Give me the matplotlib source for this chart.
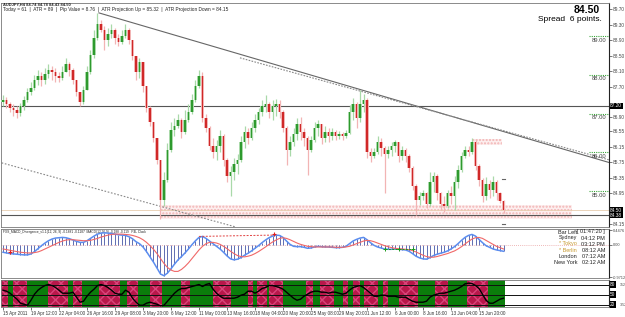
import numpy as np
import matplotlib.pyplot as plt
from matplotlib.patches import Rectangle

plt.rcParams['font.family'] = ['Liberation Sans', 'DejaVu Sans']

W, H = 625, 317

# AUDJPY H4, one candle per pair of H4 bars (prices)
first_open = 87.30
close = [87.35, 87.25, 87.14, 87.09, 87.02, 87.20, 87.35, 87.56, 87.66, 87.87,
         87.97, 87.87, 88.02, 88.13, 88.07, 87.97, 87.92, 88.07, 88.28, 88.13,
         87.87, 87.56, 87.30, 87.61, 88.07, 88.51, 88.95, 89.31, 89.16, 88.90,
         89.05, 89.16, 88.95, 88.85, 89.00, 89.16, 88.90, 88.49, 88.07, 88.33,
         87.71, 87.14, 86.78, 86.37, 85.80, 84.77, 85.29, 86.06, 86.58, 86.68,
         86.83, 86.52, 86.83, 87.04, 87.35, 87.71, 87.97, 86.89, 86.63, 86.16,
         86.01, 86.16, 86.42, 85.80, 85.39, 85.49, 85.70, 85.80, 86.27, 86.52,
         86.37, 86.63, 86.83, 87.04, 87.20, 87.25, 87.04, 87.20, 87.25, 87.04,
         86.63, 86.06, 86.27, 86.47, 86.73, 86.52, 86.37, 86.06, 86.32, 86.63,
         86.73, 86.37, 86.52, 86.42, 86.52, 86.42, 86.47, 86.42, 86.50, 87.04,
         87.25, 86.89, 87.25, 87.35, 86.01, 85.91, 86.01, 86.27, 86.11, 85.96,
         86.06, 86.16, 86.27, 85.91, 86.06, 85.91, 85.60, 85.13, 84.77, 84.87,
         84.94, 84.67, 85.23, 85.39, 84.94, 84.67, 84.62, 84.94, 84.87, 85.23,
         85.54, 85.91, 86.06, 86.01, 86.27, 85.65, 85.29, 84.87, 85.18, 85.03,
         85.23, 84.94, 84.74, 84.50]
high = [87.48, 87.43, 87.30, 87.25, 87.20, 87.27, 87.45, 87.66, 87.82, 88.00,
        88.13, 88.07, 88.18, 88.28, 88.23, 88.18, 88.07, 88.23, 88.44, 88.33,
        88.18, 87.87, 87.56, 87.71, 88.23, 88.64, 89.16, 89.60, 89.42, 89.26,
        89.21, 89.31, 89.21, 89.05, 89.16, 89.31, 89.21, 88.90, 88.49, 88.44,
        88.33, 87.71, 87.20, 86.78, 86.32, 85.80, 85.49, 86.24, 86.78, 86.89,
        86.99, 86.89, 87.09, 87.25, 87.51, 87.87, 88.13, 88.07, 86.99, 86.68,
        86.37, 86.32, 86.58, 86.47, 85.85, 85.65, 85.85, 85.96, 86.42, 86.68,
        86.63, 86.78, 86.99, 87.14, 87.35, 87.48, 87.30, 87.35, 87.38, 87.35,
        87.09, 86.68, 86.42, 86.63, 86.89, 86.91, 86.63, 86.42, 86.42, 86.78,
        86.83, 86.73, 86.68, 86.63, 86.63, 86.58, 86.55, 86.52, 86.58, 87.22,
        87.40, 87.30, 87.61, 87.51, 87.40, 86.11, 86.11, 86.42, 86.37, 86.16,
        86.16, 86.27, 86.32, 86.22, 86.16, 86.11, 85.96, 85.65, 85.18, 84.98,
        85.03, 84.98, 85.49, 85.49, 85.44, 84.98, 84.87, 85.03, 85.13, 85.39,
        85.67, 86.01, 86.16, 86.16, 86.37, 86.32, 85.70, 85.34, 85.36, 85.29,
        85.39, 85.29, 84.98, 84.78]
low = [87.20, 87.14, 87.04, 86.94, 86.89, 86.94, 87.09, 87.30, 87.48, 87.61,
       87.74, 87.71, 87.76, 87.92, 87.87, 87.82, 87.82, 87.87, 88.07, 87.97,
       87.76, 87.45, 87.20, 87.25, 87.61, 88.02, 88.44, 88.90, 89.11, 88.64,
       88.74, 88.95, 88.80, 88.74, 88.80, 88.95, 88.80, 88.38, 87.87, 87.92,
       87.56, 87.04, 86.68, 86.27, 85.70, 84.28, 84.62, 85.23, 86.01, 86.42,
       86.63, 86.37, 86.47, 86.78, 86.99, 87.30, 87.66, 86.78, 86.52, 86.06,
       85.85, 85.80, 86.01, 85.65, 85.23, 84.87, 85.29, 85.44, 85.75, 86.11,
       86.22, 86.32, 86.52, 86.73, 86.94, 87.04, 86.89, 86.83, 86.94, 86.89,
       86.52, 85.67, 85.91, 86.16, 86.32, 86.32, 86.16, 85.42, 86.01, 86.27,
       86.42, 86.22, 86.27, 86.27, 86.32, 86.32, 86.35, 86.32, 86.37, 86.47,
       86.83, 86.63, 86.78, 87.04, 85.85, 85.75, 85.85, 85.96, 85.91, 84.95,
       85.85, 85.91, 86.01, 85.75, 85.80, 85.75, 85.49, 85.03, 84.38, 84.64,
       84.77, 84.56, 84.62, 84.98, 84.77, 84.51, 84.46, 84.56, 84.67, 84.51,
       85.08, 85.49, 85.85, 85.91, 85.96, 85.54, 85.13, 84.72, 84.77, 84.82,
       84.87, 84.77, 84.69, 84.43]

macd = [-0.22, -0.24, -0.26, -0.27, -0.28, -0.29, -0.30, -0.30, -0.27, -0.20,
        -0.11, -0.02, 0.06, 0.13, 0.18, 0.21, 0.22, 0.23, 0.22, 0.19,
        0.15, 0.11, 0.08, 0.08, 0.13, 0.20, 0.27, 0.33, 0.36, 0.37,
        0.36, 0.35, 0.33, 0.31, 0.30, 0.29, 0.25, 0.19, 0.10, 0.04,
        -0.06, -0.20, -0.36, -0.52, -0.70, -0.88, -0.93, -0.85, -0.72, -0.58,
        -0.45, -0.35, -0.24, -0.12, 0.01, 0.13, 0.23, 0.26, 0.20, 0.12,
        0.04, -0.04, -0.12, -0.22, -0.33, -0.42, -0.45, -0.43, -0.38, -0.31,
        -0.25, -0.18, -0.10, -0.02, 0.07, 0.15, 0.22, 0.27, 0.30, 0.29,
        0.23, 0.12, 0.02, -0.04, -0.05, -0.05, -0.07, -0.10, -0.09, -0.06,
        -0.04, -0.05, -0.06, -0.06, -0.07, -0.08, -0.08, -0.07, -0.04, 0.04,
        0.12, 0.17, 0.21, 0.23, 0.16, 0.07, -0.01, -0.06, -0.09, -0.12,
        -0.13, -0.13, -0.12, -0.13, -0.14, -0.15, -0.19, -0.26, -0.34, -0.39,
        -0.42, -0.43, -0.38, -0.32, -0.28, -0.25, -0.22, -0.18, -0.12, -0.05,
        0.04, 0.14, 0.23, 0.29, 0.32, 0.27, 0.17, 0.07, -0.02, -0.07,
        -0.12, -0.15, -0.17, -0.19]
signal = [-0.12, -0.14, -0.16, -0.18, -0.20, -0.22, -0.23, -0.24, -0.24, -0.23,
          -0.21, -0.17, -0.12, -0.07, -0.02, 0.03, 0.08, 0.12, 0.15, 0.16,
          0.16, 0.15, 0.14, 0.13, 0.13, 0.14, 0.17, 0.20, 0.24, 0.27,
          0.30, 0.32, 0.33, 0.33, 0.33, 0.32, 0.31, 0.29, 0.26, 0.22,
          0.16, 0.08, -0.02, -0.13, -0.26, -0.41, -0.56, -0.68, -0.76, -0.80,
          -0.80, -0.74, -0.65, -0.54, -0.41, -0.28, -0.15, -0.04, 0.04, 0.08,
          0.08, 0.06, 0.02, -0.04, -0.11, -0.19, -0.26, -0.32, -0.35, -0.36,
          -0.34, -0.31, -0.26, -0.20, -0.13, -0.06, 0.02, 0.09, 0.15, 0.20,
          0.22, 0.20, 0.16, 0.11, 0.06, 0.02, -0.01, -0.04, -0.05, -0.06,
          -0.06, -0.06, -0.06, -0.06, -0.06, -0.07, -0.07, -0.07, -0.06, -0.04,
          0.00, 0.04, 0.08, 0.12, 0.14, 0.13, 0.10, 0.06, 0.02, -0.02,
          -0.05, -0.08, -0.10, -0.11, -0.12, -0.13, -0.14, -0.17, -0.21, -0.26,
          -0.31, -0.35, -0.37, -0.37, -0.35, -0.32, -0.29, -0.26, -0.22, -0.18,
          -0.12, -0.05, 0.03, 0.11, 0.18, 0.22, 0.23, 0.20, 0.14, 0.08,
          0.02, -0.04, -0.08, -0.12]

clock_osc = [63, 60, 54, 45, 36, 24, 21, 18, 33, 51,
             63, 71, 77, 80, 77, 71, 63, 54, 54, 54,
             57, 42, 27, 30, 45, 57, 66, 77, 80, 77,
             71, 63, 54, 51, 51, 63, 57, 39, 27, 18,
             18, 24, 27, 24, 21, 16, 18, 30, 42, 54,
             63, 68, 68, 71, 74, 77, 80, 74, 80, 83,
             66, 54, 45, 39, 39, 39, 39, 42, 48, 51,
             60, 60, 54, 60, 68, 71, 77, 77, 74, 71,
             66, 57, 48, 39, 33, 36, 45, 51, 57, 60,
             60, 57, 57, 54, 57, 57, 54, 51, 54, 63,
             71, 74, 77, 71, 63, 54, 45, 45, 48, 48,
             45, 45, 45, 42, 42, 42, 36, 30, 27, 27,
             27, 30, 42, 48, 51, 54, 54, 57, 60, 63,
             68, 74, 82, 84, 83, 77, 68, 51, 33, 24,
             24, 30, 36, 39]
# bar ranges of the crimson sessions in the clock strip
red_zones = [(-0.5, 1.5), (3, 7), (13, 18.5), (20, 22.5), (27.5, 33.5), (35.5, 38.5),
             (42, 45.5), (51, 53.5), (60, 65), (70, 71.5), (72.5, 75.5), (76, 80),
             (86.5, 88.5), (90.5, 94.5), (97, 98.5), (100, 102), (103, 107),
             (108.5, 110), (113, 118.5), (123.5, 127), (132.5, 138.5)]

time_labels = ['15 Apr 2011', '19 Apr 12:00', '22 Apr 04:00', '26 Apr 16:00', '29 Apr 08:00',
               '3 May 20:00', '6 May 12:00', '11 May 00:00', '13 May 16:00', '18 May 04:00',
               '20 May 20:00', '25 May 08:00', '29 May 20:00', '1 Jun 12:00', '6 Jun 00:00',
               '8 Jun 16:00', '13 Jun 04:00', '15 Jun 20:00']
price_ticks = [89.70, 89.30, 88.90, 88.50, 88.10, 87.70, 86.90, 86.55, 86.15, 85.75,
               85.35, 84.95, 84.15]
round_levels = [89.00, 88.00, 87.00, 86.00, 85.00]
res_line, sup_line, bid = 87.20, 84.38, 84.50
atr_up, atr_down = 85.32, 84.15
support_zone = (44.9, 162.5, 84.28, 84.64)
supply_zone = (134.2, 142.5, 86.19, 86.34)
trend_main = ([27.4, 173.1], [89.60, 85.74])
trend_dotted = ([67.7, 173.4], [88.44, 85.80])
trend_low = ([-0.4, 66.3], [85.73, 84.08])

# ---------------------------------------------------------------
n = len(close)
bars = np.arange(n)
closes = np.array(close)
opens = np.r_[first_open, closes[:-1]]
highs = np.maximum(np.array(high), np.maximum(opens, closes))
lows = np.minimum(np.array(low), np.minimum(opens, closes))
up = closes >= opens
x_lim = (-0.57, 173.14)
FS = 3.4  # MT4 scale font

fig = plt.figure(figsize=(W / 100, H / 100), dpi=100)


def rect(top, bottom):
    return [1 / W, 1 - bottom / H, 608 / W, (bottom - top) / H]


ax = fig.add_axes(rect(3, 227))
ax_macd = fig.add_axes(rect(228.5, 278))
ax_clk = fig.add_axes(rect(279.5, 307))

for a in (ax, ax_macd, ax_clk):
    a.set_xlim(*x_lim)
    a.yaxis.tick_right()
    a.tick_params(axis='y', labelsize=FS, length=2, pad=0.8, colors='#444', width=0.5)
    for s in a.spines.values():
        s.set_color('#777')
        s.set_linewidth(0.6)
    a.spines['right'].set_color('#222')
    a.spines['right'].set_linewidth(0.8)


def tag(a, val, txt):
    a.text(1.002, val, txt, transform=a.get_yaxis_transform(), fontsize=FS, color='white',
           va='center', ha='left', clip_on=False, zorder=10,
           bbox=dict(boxstyle='square,pad=0.12', fc='black', ec='none'))


# ---- price panel ----
ax.set_ylim(84.074, 89.855)
ax.set_xticks([])
ax.set_yticks(price_ticks)
ax.set_yticklabels([f'{t:.2f}' for t in price_ticks])

for z in (support_zone, supply_zone):
    ax.add_patch(Rectangle((z[0], z[2]), z[1] - z[0], z[3] - z[2], fc='#fdeeee',
                           ec='#f2b4b4', lw=0, hatch='.....', zorder=1))

ax.axhline(res_line, color='#555', lw=0.8, zorder=2)
ax.axhline(sup_line, color='#555', lw=0.8, zorder=2)
ax.axhline(bid, color='#e8cdb0', lw=0.6, zorder=2)
ax.plot(*trend_main, color='#666', lw=0.8, zorder=2)
ax.plot(*trend_dotted, color='#888', lw=0.8, ls=(0, (1.5, 1.2)), zorder=2)
ax.plot(*trend_low, color='#888', lw=0.8, ls=(0, (1.5, 1.5)), zorder=2)

col = np.where(up, '#2e9a2e', '#d02828')
col_l = np.where(up, '#a9d9a9', '#f2b4b4')
body_lo = np.minimum(opens, closes)
body_h = np.maximum(np.abs(closes - opens), 0.025)
ax.vlines(bars, lows, highs, colors=col_l, lw=0.9, zorder=3)
ax.bar(bars, body_h, bottom=body_lo, width=0.95, color=col_l, zorder=3)
ax.bar(bars, body_h, bottom=body_lo, width=0.45, color=col, zorder=4)

for lv in (atr_up, atr_down):
    ax.plot([n - 1.3, n - 0.7], [lv, lv], color='#666', lw=0.8, zorder=4)

for lv in round_levels:
    ax.plot([167.4, 172.8], [lv, lv], color='#3aa63a', lw=0.8, ls=(0, (1, 1)), zorder=2)
    ax.text(172.5, lv - 0.04, f'{lv:.2f}', fontsize=4.2, color='#444', ha='right', va='top')

tag(ax, res_line, f'{res_line:.2f}')
tag(ax, bid, f'{bid:.2f}')
tag(ax, sup_line, f'{sup_line:.2f}')

fig.text(3 / W, 1 - 4 / H, 'AUDJPY,H4 84.74 84.78 84.43 84.50', fontsize=2.9,
         color='#222', va='center', weight='bold')
fig.text(3 / W, 1 - 9.5 / H,
         'Today = 61  |  ATR = 89  |  Pip Value = 8.76  |  ATR Projection Up = 85.32'
         '  |  ATR Projection Down = 84.15', fontsize=3.4, color='#222', va='center')
fig.text(600 / W, 1 - 10 / H, '84.50', fontsize=7.5, weight='bold', ha='right', va='center')
fig.text(602 / W, 1 - 19.5 / H, 'Spread  6 points.', fontsize=6, ha='right', va='center')

# ---- MACD panel ----
ax_macd.set_ylim(-1.0, 0.5)
ax_macd.set_xticks([])
ax_macd.set_yticks([0.4476, 0.0, -0.9712])
ax_macd.set_yticklabels(['0.4476', '0.00', '-0.9712'])
ax_macd.tick_params(axis='y', labelsize=2.8)
ax_macd.axhline(0, color='#e9a0a0', lw=0.6, ls=(0, (1, 1.5)), zorder=1)
ax_macd.vlines(bars, 0, macd, colors='#4656a6', lw=0.6, zorder=2)
ax_macd.plot(bars, macd, color='#5b8def', lw=1.1, zorder=3)
ax_macd.plot(bars, signal, color='#f06868', lw=0.8, zorder=4)
ax_macd.plot([56, 77], [macd[56] + 0.03, macd[78]], color='#e04040', lw=0.7,
             ls=(0, (2, 1.5)), zorder=5)
ax_macd.plot([77.5], [macd[78] + 0.02], marker='+', color='#e02020', ms=3.5, mew=0.8, zorder=6)
ax_macd.plot([2], [macd[2] + 0.05], marker='+', color='#e02020', ms=3.5, mew=0.8, zorder=6)
ax_macd.plot([109, 117], [macd[109] - 0.01, macd[109] - 0.01], color='#1a9a1a', lw=0.7,
             ls=(0, (2, 1.5)), zorder=5)
ax_macd.plot([109, 113, 117], [macd[109]] * 3, ls='none', marker='+', color='#1a9a1a',
             ms=3, mew=0.7, zorder=6)
ax_macd.text(0.004, 0.97, 'FXS_MACD_Divergence_v1.1(12, 26, 9) -0.1881 -0.1187  MACD(12,26,9)'
             ' -0.188 -0.119   P4L Clock', transform=ax_macd.transAxes, fontsize=2.3,
             color='#222', va='top', zorder=1)

clock_rows = [('Bar Left', '[ 01:47:20 ]', '#222'), ('Sydney', '04:12 PM', '#222'),
              ('* Tokyo', '03:12 PM', '#c89a30'), ('* Berlin', '08:12 AM', '#c89a30'),
              ('London', '07:12 AM', '#222'), ('New York', '02:12 AM', '#222')]
for i, (name, tm, c) in enumerate(clock_rows):
    yy = 1 - (232 + i * 6.0) / H
    fig.text(577 / W, yy, name, fontsize=4.0, color=c, ha='right', va='center')
    fig.text(605 / W, yy, tm, fontsize=4.0, color='#222', ha='right', va='center')

# ---- clock strip ----
ax_clk.set_ylim(12.7, 95)
ax_clk.axvspan(x_lim[0], n - 0.5, color='#0b7d0b', lw=0, zorder=0)
for a0, a1 in red_zones:
    ax_clk.add_patch(Rectangle((a0, 12.7), a1 - a0, 82.3, fc='#b8174a', ec='#d8457a',
                               lw=0, hatch='xxx', zorder=1))
for lv in (80, 50, 20):
    ax_clk.axhline(lv, color='#111', lw=0.7, zorder=2)
ax_clk.plot(bars, clock_osc, color='black', lw=1.0, zorder=3)
ax_clk.set_yticks([80, 20])
ax_clk.set_yticklabels(['352', '-352'])
ax_clk.tick_params(axis='y', labelsize=2.5, pad=5.5)
for lv in (80, 50, 20):
    tag(ax_clk, lv, f'{lv}')

ax_clk.set_xticks(bars[::8][:len(time_labels)])
ax_clk.set_xticklabels(time_labels, ha='left')
ax_clk.tick_params(axis='x', labelsize=3.3, length=2, pad=1, colors='#333', width=0.5)

fig.savefig('out.png', dpi=100)
